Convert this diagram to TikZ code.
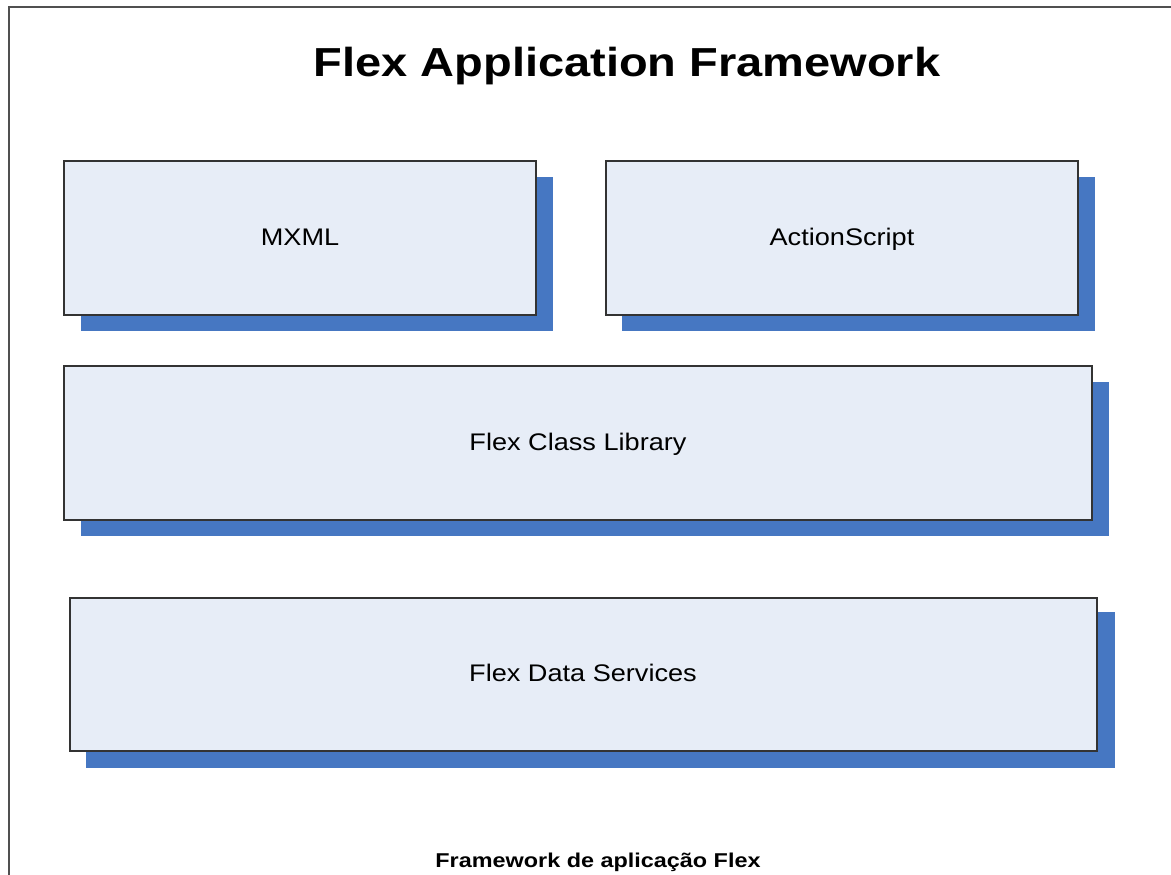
\documentclass[tikz,border=0pt]{standalone}
\usepackage{fontspec}
\usepackage{graphicx}
\setmainfont{Liberation Sans}
\definecolor{boxfill}{HTML}{E7EDF7}
\definecolor{shadowblue}{HTML}{4677C2}
\definecolor{framegray}{HTML}{505050}
\newcommand{\widetext}[2]{\scalebox{#1}[1]{#2}}
\begin{document}
\begin{tikzpicture}[x=1pt,y=-1pt,
  layerbox/.style={draw=black!80,line width=1.2pt,fill=boxfill},
  layershadow/.style={fill=shadowblue,draw=none},
  lbl/.style={anchor=base,inner sep=0pt,font=\fontsize{24}{28}\selectfont}]
\useasboundingbox (0,0) rectangle (1171,875);
% frame
\draw[framegray,line width=1.6pt] (9,875) -- (9,7) -- (1171,7);
% title
\node[anchor=base,inner sep=0pt,font=\fontsize{40.5}{46}\selectfont\bfseries] (title) at (627,77) {\widetext{1.16}{Flex Application Framework}};
% MXML
\fill[layershadow] (81,177) rectangle (553,331);
\draw[layerbox] (64,161) rectangle (536,315);
\node[lbl] (mxml) at (300,245) {\widetext{1.13}{MXML}};
% ActionScript
\fill[layershadow] (622,177) rectangle (1095,331);
\draw[layerbox] (606,161) rectangle (1078,315);
\node[lbl] (as) at (842,245) {\widetext{1.13}{ActionScript}};
% Class library
\fill[layershadow] (81,382) rectangle (1109,536);
\draw[layerbox] (64,366) rectangle (1092,520);
\node[lbl] (fcl) at (578,450) {\widetext{1.13}{Flex Class Library}};
% Data services
\fill[layershadow] (86,612) rectangle (1115,768);
\draw[layerbox] (70,598) rectangle (1097,751);
\node[lbl] (fds) at (583,681) {\widetext{1.13}{Flex Data Services}};
% caption
\node[anchor=base,inner sep=0pt,font=\fontsize{20}{24}\selectfont\bfseries] (cap) at (598,867) {\widetext{1.17}{Framework de aplicação Flex}};
\end{tikzpicture}
\end{document}
